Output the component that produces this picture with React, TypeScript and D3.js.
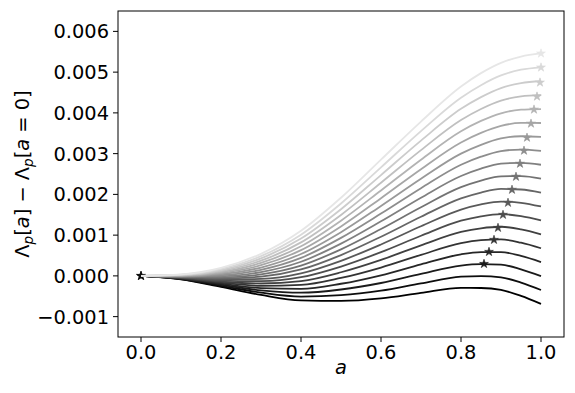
import React from "react";
import * as d3 from "d3";

// sample positions along a
const aValues = [0, 0.1, 0.2, 0.3, 0.4, 0.5, 0.6, 0.7, 0.8, 0.85, 0.9, 0.95, 1.0];

// curve values, in units of 1e-3 (curve 0 = darkest)
const curve00 = [0, -0.086, -0.270, -0.467, -0.602, -0.615, -0.553, -0.418, -0.295, -0.297, -0.344, -0.492, -0.688];
const curve01 = [0, -0.079, -0.244, -0.411, -0.507, -0.474, -0.364, -0.184, -0.020, -0.004, -0.035, -0.166, -0.347];
const curve02 = [0, -0.072, -0.218, -0.355, -0.412, -0.334, -0.175, 0.049, 0.254, 0.288, 0.275, 0.161, -0.005];
const curve03 = [0, -0.066, -0.192, -0.299, -0.317, -0.193, 0.015, 0.283, 0.529, 0.582, 0.584, 0.488, 0.337];
const curve04 = [0, -0.059, -0.166, -0.243, -0.222, -0.052, 0.204, 0.516, 0.803, 0.875, 0.894, 0.814, 0.678];
const curve05 = [0, -0.052, -0.141, -0.187, -0.128, 0.089, 0.393, 0.750, 1.078, 1.168, 1.205, 1.141, 1.020];
const curve06 = [0, -0.045, -0.115, -0.131, -0.033, 0.229, 0.582, 0.984, 1.353, 1.460, 1.514, 1.467, 1.361];
const curve07 = [0, -0.038, -0.089, -0.075, 0.062, 0.370, 0.771, 1.217, 1.627, 1.753, 1.824, 1.794, 1.703];
const curve08 = [0, -0.032, -0.063, -0.019, 0.157, 0.511, 0.961, 1.451, 1.902, 2.046, 2.134, 2.120, 2.044];
const curve09 = [0, -0.025, -0.037, 0.037, 0.252, 0.651, 1.150, 1.684, 2.176, 2.338, 2.444, 2.447, 2.386];
const curve10 = [0, -0.018, -0.011, 0.093, 0.347, 0.792, 1.339, 1.918, 2.451, 2.631, 2.753, 2.773, 2.727];
const curve11 = [0, -0.011, 0.015, 0.149, 0.442, 0.933, 1.528, 2.152, 2.726, 2.924, 3.062, 3.100, 3.069];
const curve12 = [0, -0.004, 0.041, 0.205, 0.537, 1.073, 1.717, 2.385, 3.000, 3.216, 3.372, 3.426, 3.410];
const curve13 = [0, 0.002, 0.067, 0.261, 0.632, 1.214, 1.907, 2.619, 3.275, 3.509, 3.681, 3.753, 3.752];
const curve14 = [0, 0.009, 0.093, 0.317, 0.727, 1.355, 2.096, 2.852, 3.549, 3.802, 3.990, 4.079, 4.093];
const curve15 = [0, 0.016, 0.119, 0.373, 0.822, 1.496, 2.285, 3.086, 3.824, 4.095, 4.300, 4.406, 4.435];
const curve16 = [0, 0.023, 0.144, 0.429, 0.916, 1.636, 2.474, 3.320, 4.099, 4.387, 4.609, 4.732, 4.776];
const curve17 = [0, 0.030, 0.170, 0.485, 1.011, 1.777, 2.663, 3.553, 4.373, 4.680, 4.919, 5.059, 5.118];
const curve18 = [0, 0.036, 0.196, 0.541, 1.106, 1.918, 2.853, 3.787, 4.648, 4.976, 5.228, 5.383, 5.459];

const curves = [curve00, curve01, curve02, curve03, curve04, curve05, curve06, curve07, curve08, curve09,
  curve10, curve11, curve12, curve13, curve14, curve15, curve16, curve17, curve18];

// star (maximum) markers for each curve, a and value (1e-3 units)
const starA = [0, 0, 0.8575, 0.87, 0.8825, 0.8925, 0.905, 0.9175, 0.9275, 0.9375, 0.9475, 0.9575, 0.965, 0.975, 0.9825, 0.99, 0.9975, 1.0, 1.0];
const starV = [0, 0, 0.295, 0.590, 0.885, 1.180, 1.500, 1.795, 2.115, 2.434, 2.754, 3.074, 3.393, 3.738, 4.082, 4.402, 4.746, 5.115, 5.459];

const xTicks = [0, 0.2, 0.4, 0.6, 0.8, 1.0];
const yTicks = [-1, 0, 1, 2, 3, 4, 5, 6];

const W = 575, H = 393;
const left = 118, right = 564, top = 11, bottom = 337;
const FS = 19.4;
const FONT = "DejaVu Sans";

export default function App() {
  const x = d3.scaleLinear().domain([-0.0575, 1.0575]).range([left, right]);
  const y = d3.scaleLinear().domain([-1.5, 6.5]).range([bottom, top]);
  const n = curves.length;
  const color = (k: number) => {
    const g = Math.round((k / (n - 1)) * 230);
    return d3.rgb(g, g, g).formatHex();
  };
  const line = d3.line<number>()
    .x((_, i) => x(aValues[i]))
    .y((v) => y(v))
    .curve(d3.curveMonotoneX);
  const star = d3.symbol().type(d3.symbolStar).size(24)();
  const fmtY = (v: number) => {
    const s = (Math.abs(v) / 1000).toFixed(3);
    return v < 0 ? "\u2212" + s : s;
  };
  return (
    <svg width={W} height={H} style={{ position: "absolute", left: 0, top: 0, background: "#fff" }}
      fontFamily={FONT}>
      <rect x={0} y={0} width={W} height={H} fill="#fff" />
      <defs>
        <clipPath id="plotclip">
          <rect x={left} y={top} width={right - left} height={bottom - top} />
        </clipPath>
      </defs>
      <g clipPath="url(#plotclip)">
        {curves.map((c, k) => (
          <g key={k}>
            <path d={line(c) || ""} fill="none" stroke={color(k)} strokeWidth={1.8} />
            <path d={star} transform={`translate(${x(starA[k])},${y(starV[k])})`} fill={color(k)}
              stroke={color(k)} strokeWidth={0.6} />
          </g>
        ))}
      </g>
      <rect x={left} y={top} width={right - left} height={bottom - top} fill="none" stroke="#000" strokeWidth={1} />
      {xTicks.map((t) => (
        <g key={"x" + t}>
          <line x1={x(t)} x2={x(t)} y1={bottom} y2={bottom + 5} stroke="#000" strokeWidth={1} />
          <text x={x(t)} y={bottom + 22} fontSize={FS} textAnchor="middle" fill="#000">{t.toFixed(1)}</text>
        </g>
      ))}
      {yTicks.map((t) => (
        <g key={"y" + t}>
          <line x1={left - 5} x2={left} y1={y(t)} y2={y(t)} stroke="#000" strokeWidth={1} />
          <text x={left - 9} y={y(t)} dy="0.36em" fontSize={FS} textAnchor="end" fill="#000">{fmtY(t)}</text>
        </g>
      ))}
      <text x={(left + right) / 2} y={374} fontSize={FS} textAnchor="middle" fontStyle="italic" fill="#000">a</text>
      <text transform={`translate(29,${(top + bottom) / 2}) rotate(-90)`} fontSize={FS} textAnchor="middle" fill="#000">
        <tspan>Λ</tspan>
        <tspan fontStyle="italic" fontSize={FS * 0.7} dy={4}>p</tspan>
        <tspan dy={-4}>[</tspan>
        <tspan fontStyle="italic">a</tspan>
        <tspan>]</tspan>
        <tspan> − Λ</tspan>
        <tspan fontStyle="italic" fontSize={FS * 0.7} dy={4}>p</tspan>
        <tspan dy={-4}>[</tspan>
        <tspan fontStyle="italic">a</tspan>
        <tspan> = 0]</tspan>
      </text>
    </svg>
  );
}
